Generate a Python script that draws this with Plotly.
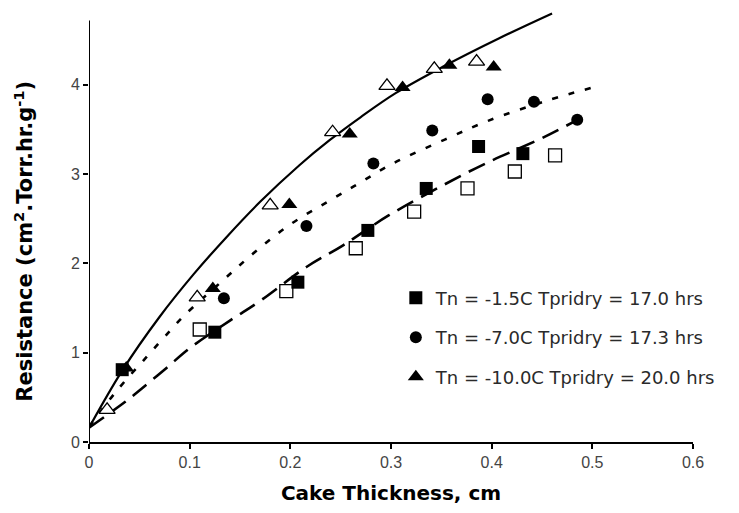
import plotly.graph_objects as go

# Measured points: cake thickness (cm) vs. dry-layer resistance
sq_x = [0.033, 0.125, 0.2075, 0.277, 0.335, 0.387, 0.431]
sq_y = [0.81, 1.23, 1.79, 2.37, 2.84, 3.31, 3.23]
sq_open_x = [0.110, 0.196, 0.265, 0.323, 0.376, 0.423, 0.463]
sq_open_y = [1.26, 1.69, 2.17, 2.58, 2.84, 3.03, 3.21]

ci_x = [0.134, 0.216, 0.2825, 0.341, 0.396, 0.442, 0.485]
ci_y = [1.61, 2.42, 3.12, 3.49, 3.84, 3.81, 3.61]

tr_x = [0.037, 0.123, 0.199, 0.259, 0.3115, 0.358, 0.402]
tr_y = [0.83, 1.72, 2.66, 3.45, 3.97, 4.22, 4.20]
tr_open_x = [0.018, 0.1075, 0.180, 0.242, 0.296, 0.343, 0.385]
tr_open_y = [0.36, 1.62, 2.65, 3.47, 3.99, 4.18, 4.26]

# Fitted curves for each freezing condition
fit_tr_x = [0, 0.033, 0.07, 0.104, 0.137, 0.17, 0.209, 0.239, 0.27, 0.305, 0.351, 0.407, 0.46]
fit_tr_y = [0.16, 0.80, 1.40, 1.88, 2.30, 2.69, 3.10, 3.38, 3.64, 3.91, 4.20, 4.52, 4.80]
fit_ci_x = [0, 0.028, 0.057, 0.08, 0.094, 0.133, 0.163, 0.199, 0.237, 0.27, 0.302, 0.354, 0.397, 0.457, 0.5]
fit_ci_y = [0.17, 0.58, 0.95, 1.24, 1.41, 1.81, 2.11, 2.43, 2.69, 2.91, 3.12, 3.39, 3.60, 3.83, 3.97]
fit_sq_x = [0, 0.036, 0.0525, 0.077, 0.100, 0.140, 0.170, 0.216, 0.252, 0.298, 0.354, 0.394, 0.453, 0.487]
fit_sq_y = [0.16, 0.45, 0.60, 0.83, 1.05, 1.36, 1.58, 1.96, 2.20, 2.54, 2.89, 3.12, 3.42, 3.62]

labels = [
    "Tn = -1.5C Tpridry = 17.0 hrs",
    "Tn = -7.0C Tpridry = 17.3 hrs",
    "Tn = -10.0C Tpridry = 20.0 hrs",
]
x_ticks = [0, 0.1, 0.2, 0.3, 0.4, 0.5, 0.6]
x_tick_text = ["0", "0.1", "0.2", "0.3", "0.4", "0.5", "0.6"]
y_ticks = [0, 1, 2, 3, 4]
y_axis_top = 4.72

fig = go.Figure()

# fitted curves
fig.add_trace(go.Scatter(x=fit_tr_x, y=fit_tr_y, mode="lines", showlegend=False,
                         line=dict(color="black", width=2.2, shape="spline", smoothing=1.0)))
fig.add_trace(go.Scatter(x=fit_ci_x, y=fit_ci_y, mode="lines", showlegend=False,
                         line=dict(color="black", width=2.6, dash="6px,11px", shape="spline", smoothing=1.0)))
fig.add_trace(go.Scatter(x=fit_sq_x, y=fit_sq_y, mode="lines", showlegend=False,
                         line=dict(color="black", width=2.6, dash="18px,9px", shape="spline", smoothing=1.0)))

# open markers (replicate runs)
fig.add_trace(go.Scatter(x=sq_open_x, y=sq_open_y, mode="markers", showlegend=False,
                         marker=dict(symbol="square", size=13, color="white",
                                     line=dict(color="black", width=1.3))))
fig.add_trace(go.Scatter(x=tr_open_x, y=tr_open_y, mode="markers", showlegend=False,
                         marker=dict(symbol="triangle-up", size=14, color="white",
                                     line=dict(color="black", width=1.3))))

# filled markers
fig.add_trace(go.Scatter(x=sq_x, y=sq_y, mode="markers", name=labels[0], legendgroup="a",
                         marker=dict(symbol="square", size=13, color="black")))
fig.add_trace(go.Scatter(x=ci_x, y=ci_y, mode="markers", name=labels[1], legendgroup="b",
                         marker=dict(symbol="circle", size=12, color="black")))
fig.add_trace(go.Scatter(x=tr_x, y=tr_y, mode="markers", name=labels[2], legendgroup="c",
                         marker=dict(symbol="triangle-up", size=14, color="black")))

# y axis line stops at the top of the value scale
fig.add_shape(type="line", xref="x", yref="y", x0=0, x1=0, y0=0, y1=y_axis_top,
              line=dict(color="black", width=2))

fig.add_annotation(
    text="<b>Resistance (cm<sup>2</sup>.Torr.hr.g<sup>-1</sup>)</b>",
    xref="paper", yref="paper", x=-0.109, y=0.463, textangle=-90,
    showarrow=False, font=dict(family="DejaVu Sans", size=21, color="black"),
    xanchor="center", yanchor="middle",
)

fig.update_layout(
    width=739, height=513,
    margin=dict(l=89, r=46, t=9, b=71),
    paper_bgcolor="white", plot_bgcolor="white",
    font=dict(family="Liberation Sans", color="#333"),
    legend=dict(x=0.508, y=0.375, xanchor="left", yanchor="top",
                bgcolor="rgba(0,0,0,0)", tracegroupgap=13,
                font=dict(family="DejaVu Sans", size=18, color="#2a2a2a"),
                itemwidth=30),
    xaxis=dict(range=[0, 0.6], tickvals=x_ticks, ticktext=x_tick_text,
               showgrid=False, zeroline=False, showline=True, linecolor="black", linewidth=2,
               ticks="outside", ticklen=5, tickcolor="black", tickwidth=1.5,
               tickfont=dict(family="Liberation Sans", size=16, color="#444"),
               title=dict(text="<b>Cake Thickness, cm</b>", standoff=16,
                          font=dict(family="DejaVu Sans", size=20, color="black"))),
    yaxis=dict(range=[0, 4.85], tickvals=y_ticks,
               showgrid=False, zeroline=False, showline=False,
               ticks="outside", ticklen=5, tickcolor="black", tickwidth=1.5,
               tickfont=dict(family="Liberation Sans", size=16, color="#444")),
)

fig.write_html("out.html")
